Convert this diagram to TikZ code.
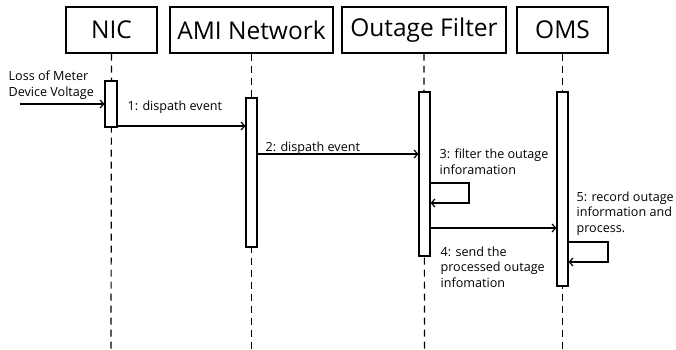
\documentclass[tikz,border=0pt]{standalone}
\usepackage{fontspec}
\setmainfont{Open Sans}
\usetikzlibrary{arrows.meta}
\begin{document}
\begin{tikzpicture}[x=1pt,y=-1pt,line width=1.2pt,
  head/.style={draw,rectangle,inner sep=0pt,font=\fontsize{24.5}{28}\selectfont,minimum height=46pt},
  act/.style={draw,fill=white,rectangle,inner sep=0pt,minimum width=11pt},
  life/.style={dash pattern=on 7pt off 5pt},
  msg/.style={-{Straight Barb[length=3.5pt,width=8pt]}},
  lbl/.style={font=\fontsize{12.6}{15.5}\selectfont,align=left,inner sep=0pt,anchor=base west}]
\useasboundingbox (0,0) rectangle (676,349);
% headers
\node[head,minimum width=91pt] (nic) at (111.5,30) {NIC};
\node[head,minimum width=163pt] (ami) at (251.5,30) {AMI Network};
\node[head,minimum width=164pt] (filt) at (424,30) {Outage Filter};
\node[head,minimum width=91pt] (oms) at (562.5,30) {OMS};
% bottoms of lifelines
\coordinate (nicend) at (111,349);
\coordinate (amiend) at (251.5,349);
\coordinate (filtend) at (424.5,349);
\coordinate (omsend) at (562.5,349);
% lifelines
\draw[life] (nic.south) -- (nicend);
\draw[life] (ami.south) -- (amiend);
\draw[life] (filt.south) -- (filtend);
\draw[life] (oms.south) -- (omsend);
% activations
\node[act,minimum width=12pt,minimum height=46pt] (nicact) at (111,104) {};
\node[act,minimum height=149pt] (amiact) at (251.5,172.5) {};
\node[act,minimum height=164pt] (filtact) at (424.5,174) {};
\node[act,minimum height=194pt] (omsact) at (562.5,189) {};
% external trigger
\coordinate (src) at (20,104);
\node[lbl] (srclbl) at (8,96) {Loss of Meter\\Device Voltage};
\draw[msg] (src) -- (nicact.west |- src);
% message 1
\draw[msg] (nicact.east |- 0,126) -- (amiact.west |- 0,126);
\node[lbl] (m1) at (127,110) {1: dispath event};
% message 2
\draw[msg] (amiact.east |- 0,154) -- (filtact.west |- 0,154);
\node[lbl] (m2) at (265,151) {2: dispath event};
% message 3 (self)
\coordinate (s3a) at (469,183);
\coordinate (s3b) at (469,203);
\draw[msg] (filtact.east |- s3a) -- (s3a) -- (s3b) -- (filtact.east |- s3b);
\node[lbl] (m3) at (439,174) {3: filter the outage\\inforamation};
% message 4
\draw[msg] (filtact.east |- 0,228) -- (omsact.west |- 0,228);
\node[lbl] (m4) at (440,287) {4: send the\\processed outage\\infomation};
% message 5 (self)
\coordinate (s5a) at (608,242);
\coordinate (s5b) at (608,262);
\draw[msg] (omsact.east |- s5a) -- (s5a) -- (s5b) -- (omsact.east |- s5b);
\node[lbl] (m5) at (576,232) {5: record outage\\information and\\process.};
\end{tikzpicture}
\end{document}
